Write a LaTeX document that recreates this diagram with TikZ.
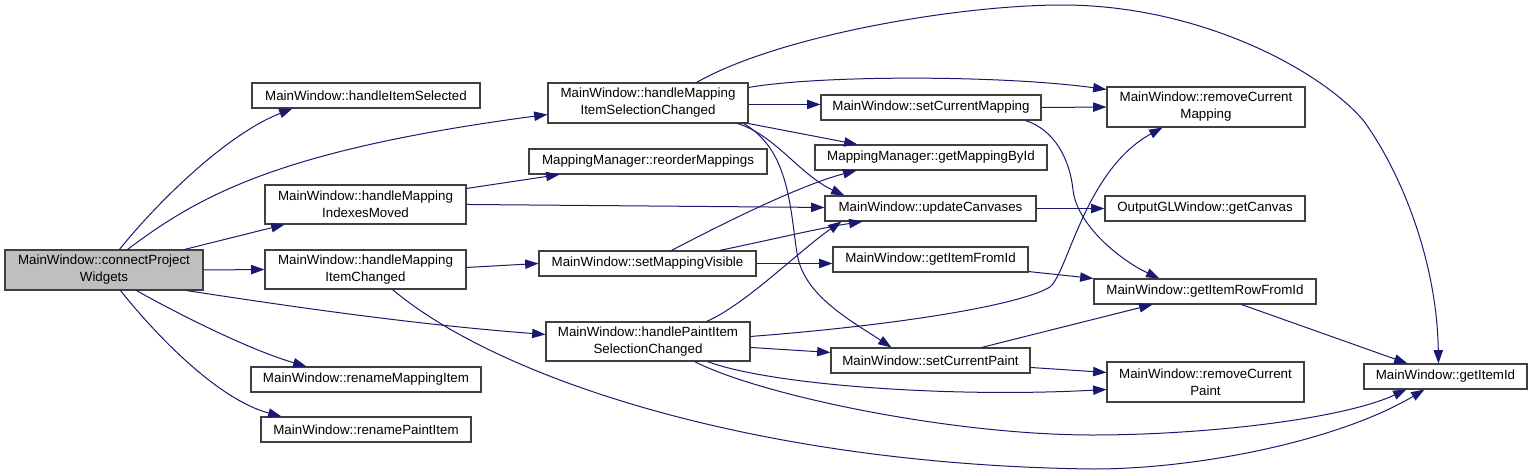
\documentclass[tikz,border=0pt]{standalone}
\usepackage{fontspec}
\setmainfont{Liberation Sans}
\usetikzlibrary{arrows.meta,calc}
\definecolor{edgeblue}{HTML}{191970}
\definecolor{rootgray}{HTML}{BFBFBF}
\definecolor{boxborder}{HTML}{404040}
\tikzset{
  fn/.style={draw=boxborder, line width=0.8pt, fill=white, inner sep=0pt, align=center,
    font=\fontsize{10}{12.75}\selectfont},
  rootfn/.style={fn, fill=rootgray},
  call/.style={draw=edgeblue, line width=0.75pt, -{Triangle[length=10pt,width=7pt]}},
}
\newcommand\fnbox[7][fn]{%
  \node[#1, minimum width={(#5-#3)*0.75pt}, minimum height={(#6-#4)*0.75pt}]
    (#2) at ({(#3+#5)/2},{(#4+#6)/2}) {#7};}
\begin{document}
\begin{tikzpicture}[x=0.75pt,y=-0.75pt]
\fill[white] (0,0) rectangle (1532,475);
\useasboundingbox (0,0) rectangle (1532,475);
% nodes
\fnbox[rootfn]{conn}{5}{250}{203}{290}{MainWindow::connectProject\\Widgets}
\fnbox{hIS}{252}{83}{480}{108}{MainWindow::handleItemSelected}
\fnbox{hMIM}{265}{185}{466}{224}{MainWindow::handleMapping\\IndexesMoved}
\fnbox{hMIC}{265}{250}{466}{289}{MainWindow::handleMapping\\ItemChanged}
\fnbox{rMI}{251}{367}{481}{392}{MainWindow::renameMappingItem}
\fnbox{rPI}{261}{417}{471}{442}{MainWindow::renamePaintItem}
\fnbox{hMISC}{548}{83}{748}{123}{MainWindow::handleMapping\\ItemSelectionChanged}
\fnbox{reord}{529}{149}{767}{174}{MappingManager::reorderMappings}
\fnbox{sMV}{539}{251}{756}{276}{MainWindow::setMappingVisible}
\fnbox{hPISC}{546}{322}{750}{361}{MainWindow::handlePaintItem\\SelectionChanged}
\fnbox{sCM}{821}{95}{1041}{120}{MainWindow::setCurrentMapping}
\fnbox{gMBI}{815}{145}{1047}{170}{MappingManager::getMappingById}
\fnbox{uC}{825}{196}{1036}{221}{MainWindow::updateCanvases}
\fnbox{gIFI}{833}{247}{1028}{272}{MainWindow::getItemFromId}
\fnbox{sCP}{831}{348}{1030}{373}{MainWindow::setCurrentPaint}
\fnbox{rCM}{1107}{87}{1305}{127}{MainWindow::removeCurrent\\Mapping}
\fnbox{gC}{1105}{196}{1305}{221}{OutputGLWindow::getCanvas}
\fnbox{gIRFI}{1094}{279}{1316}{304}{MainWindow::getItemRowFromId}
\fnbox{rCP}{1107}{362}{1304}{402}{MainWindow::removeCurrent\\Paint}
\fnbox{gII}{1364}{364}{1527}{389}{MainWindow::getItemId}
% edges from connectProjectWidgets
\draw[call] ([shift={(115,0)}]conn.north west) .. controls (155,205) and (225,135) .. ([shift={(41,0)}]hIS.south west);
\draw[call] ([shift={(123,0)}]conn.north west) .. controls (200,195) and (280,150) .. ([shift={(0,32)}]hMISC.north west);
\draw[call] ([shift={(180,0)}]conn.north west) -- ([shift={(20,0)}]hMIM.south west);
\draw[call] (conn.east) -- (hMIC.west);
\draw[call] ([shift={(182,0)}]conn.south west) .. controls (300,308) and (420,325) .. ([shift={(0,13)}]hPISC.north west);
\draw[call] ([shift={(132,0)}]conn.south west) .. controls (180,315) and (250,350) .. ([shift={(56,0)}]rMI.north west);
\draw[call] ([shift={(116,0)}]conn.south west) .. controls (160,340) and (220,400) .. ([shift={(21,0)}]rPI.north west);
% handleMappingIndexesMoved
\draw[call] ([shift={(0,4)}]hMIM.north east) -- ([shift={(31,0)}]reord.south west);
\draw[call] ([shift={(0,20)}]hMIM.north east) -- ([shift={(0,12)}]uC.north west);
% handleMappingItemChanged
\draw[call] ([shift={(0,18)}]hMIC.north east) -- ([shift={(0,13)}]sMV.north west);
\draw[call] ([shift={(128,0)}]hMIC.south west) .. controls (500,380) and (760,465) .. (1093,469)
  .. controls (1200,469) and (1340,440) .. ([shift={(61,0)}]gII.south west);
% handleMappingItemSelectionChanged
\draw[call] ([shift={(149,0)}]hMISC.north west) .. controls (780,35) and (960,5) .. (1062,5)
  .. controls (1200,5) and (1320,70) .. (1363,120)
  .. controls (1400,170) and (1437,260) .. ([shift={(75,0)}]gII.north west);
\draw[call] ([shift={(0,5)}]hMISC.north east) .. controls (820,75) and (1000,75) .. ([shift={(0,3)}]rCM.north west);
\draw[call] ([shift={(0,22)}]hMISC.north east) -- ([shift={(0,10)}]sCM.north west);
\draw[call] (hMISC.south east) -- ([shift={(43,0)}]gMBI.north west);
\draw[call] ([shift={(-11,0)}]hMISC.south east) .. controls (775,135) and (800,175) .. ([shift={(20,0)}]uC.north west);
\draw[call] ([shift={(-5,0)}]hMISC.south east) .. controls (790,150) and (790,210) .. (797,253)
  .. controls (803,295) and (850,320) .. ([shift={(61,0)}]sCP.north west);
% setCurrentMapping
\draw[call] (sCM.east) -- (rCM.west);
\draw[call] ([shift={(-16,0)}]sCM.south east) .. controls (1055,130) and (1070,160) .. (1073,190)
  .. controls (1077,225) and (1120,260) .. ([shift={(66,0)}]gIRFI.north west);
% setMappingVisible
\draw[call] ([shift={(133,0)}]sMV.north west) .. controls (720,225) and (800,185) .. ([shift={(42,0)}]gMBI.south west);
\draw[call] ([shift={(181,0)}]sMV.north west) .. controls (770,240) and (820,228) .. ([shift={(38,0)}]uC.south west);
\draw[call] (sMV.east) -- (sMV.east -| gIFI.west);
% handlePaintItemSelectionChanged
\draw[call] ([shift={(161,0)}]hPISC.north west) .. controls (745,305) and (800,250) .. ([shift={(17,0)}]uC.south west);
\draw[call] ([shift={(0,15)}]hPISC.north east) .. controls (900,325) and (1020,305) .. (1050,287)
  .. controls (1068,272) and (1085,170) .. ([shift={(56,0)}]rCM.south west);
\draw[call] ([shift={(0,26)}]hPISC.north east) -- ([shift={(0,5)}]sCP.north west);
\draw[call] ([shift={(162,0)}]hPISC.south west) .. controls (770,385) and (950,398) .. ([shift={(0,28)}]rCP.north west);
\draw[call] ([shift={(149,0)}]hPISC.south west) .. controls (760,395) and (950,435) .. (1093,435)
  .. controls (1200,435) and (1340,420) .. ([shift={(43,0)}]gII.south west);
% others
\draw[call] (uC.east) -- (gC.west);
\draw[call] ([shift={(0,-1)}]gIFI.south east) -- (gIRFI.north west);
\draw[call] ([shift={(151,0)}]sCP.north west) -- ([shift={(59,0)}]gIRFI.south west);
\draw[call] ([shift={(0,20)}]sCP.north east) -- ([shift={(0,11)}]rCP.north west);
\draw[call] ([shift={(148,0)}]gIRFI.south west) -- ([shift={(44,0)}]gII.north west);
\end{tikzpicture}
\end{document}
